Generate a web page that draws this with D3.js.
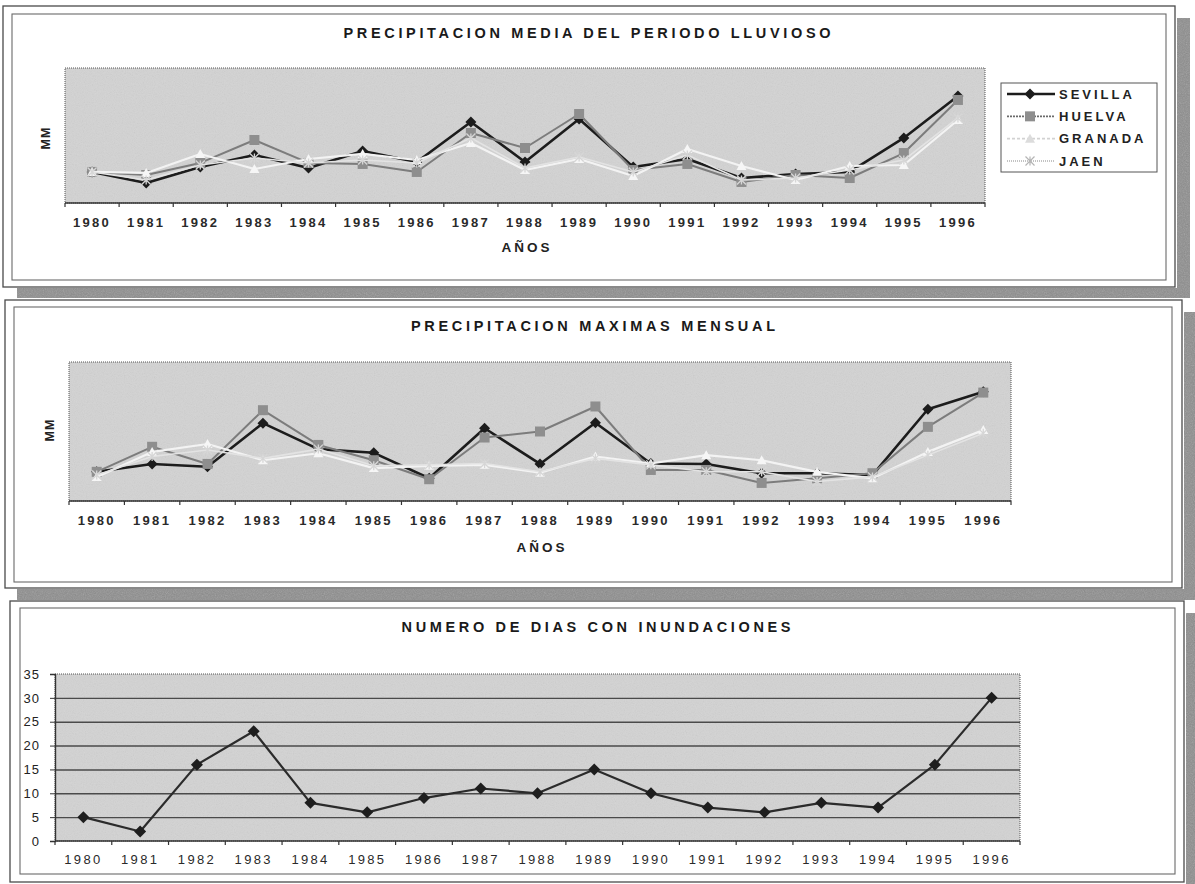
<!DOCTYPE html>
<html><head><meta charset="utf-8">
<script src="https://cdn.jsdelivr.net/npm/d3@7"></script>
<style>
html,body{margin:0;padding:0;background:#fff;}
svg{display:block;font-family:"Liberation Sans",Arial,Helvetica,sans-serif;}
</style></head><body>
<svg id="c" width="1195" height="884"></svg>
<script>
// ---------------- DATA ----------------
const years = ["1980","1981","1982","1983","1984","1985","1986","1987","1988","1989","1990","1991","1992","1993","1994","1995","1996"];
const seriesNames = ["SEVILLA","HUELVA","GRANADA","JAEN"];

// Precipitación media del periodo lluvioso (mm, estimated – no axis values in source)
const sevillaMedia = [276,178,320,427,311,462,364,720,364,747,320,391,222,258,276,578,951];
const huelvaMedia  = [276,249,356,560,356,347,276,622,489,791,293,347,187,249,222,444,916];
const granadaMedia = [276,267,436,302,391,436,382,533,293,391,240,480,329,204,329,338,738];
const jaenMedia    = [276,204,338,400,356,382,356,578,311,409,276,427,204,222,293,382,756];

// Precipitación máximas mensual (mm, estimated)
const sevillaMax = [63,80,74,168,112,104,49,157,80,169,81,80,60,60,56,198,236];
const huelvaMax  = [63,117,80,196,121,88,47,137,150,204,67,67,39,49,60,160,234];
const granadaMax = [52,106,123,88,103,71,76,78,61,96,81,99,88,63,49,106,153];
const jaenMax    = [56,96,110,92,112,76,78,81,63,92,78,63,63,42,52,99,146];

// Número de días con inundaciones
const diasInundaciones = [5,2,16,23,8,6,9,11,10,15,10,7,6,8,7,16,30];
const diasTicks = [0,5,10,15,20,25,30,35];

const titles = ["PRECIPITACION MEDIA DEL PERIODO LLUVIOSO","PRECIPITACION MAXIMAS MENSUAL","NUMERO DE DIAS CON INUNDACIONES"];
const yLabel = "MM";
const xLabel = "AÑOS";

// ---------------- STYLES ----------------
const seriesStyle = [
  {stroke:"#1c1c1c", width:2.6, marker:"diamond", fill:"#1c1c1c", size:11, lStroke:"#1c1c1c", lDash:null},
  {stroke:"#7c7c7c", width:2.0, marker:"square",  fill:"#8e8e8e", size:10, lStroke:"#6a6a6a", lDash:"2,1"},
  {stroke:"#f3f3f3", width:2.2, marker:"triangle",fill:"#f6f6f6", size:10, lStroke:"#d2d2d2", lDash:"3,2"},
  {stroke:"#e3e3e3", width:1.6, marker:"asterisk",fill:"#d6d6d6", size:9,  lStroke:"#b0b0b0", lDash:"1,1"}
];

const svg = d3.select("#c");
const defs = svg.append("defs");
const f = defs.append("filter").attr("id","grain").attr("x",0).attr("y",0).attr("width","100%").attr("height","100%");
f.append("feTurbulence").attr("type","fractalNoise").attr("baseFrequency",0.9).attr("numOctaves",2).attr("seed",4).attr("result","n");
f.append("feColorMatrix").attr("in","n").attr("type","saturate").attr("values",0);

function markerPath(type, size){
  const r = size/2;
  if(type==="diamond") return `M0,${-r}L${r},0L0,${r}L${-r},0Z`;
  if(type==="square") return `M${-r},${-r}H${r}V${r}H${-r}Z`;
  if(type==="triangle") return `M0,${-r}L${r},${r*0.8}L${-r},${r*0.8}Z`;
  if(type==="asterisk") return `M${-r},${-r}L${r},${r}M${-r},${r}L${r},${-r}M0,${-r}L0,${r}`;
  return "";
}

function frame(o, inner, shadows){
  shadows.forEach(s=>{
    svg.append("rect").attr("x",s[0]).attr("y",s[1]).attr("width",s[2]).attr("height",s[3]).attr("fill","#8d8d8d");
    svg.append("rect").attr("x",s[0]).attr("y",s[1]).attr("width",s[2]).attr("height",s[3]).attr("fill","#888").attr("opacity",0.35).attr("filter","url(#grain)");
  });
  svg.append("rect").attr("x",o[0]).attr("y",o[1]).attr("width",o[2]).attr("height",o[3]).attr("fill","#fff").attr("stroke","#4a4a4a").attr("stroke-width",1.3);
  svg.append("rect").attr("x",inner[0]).attr("y",inner[1]).attr("width",inner[2]).attr("height",inner[3]).attr("fill","none").attr("stroke","#6a6a6a").attr("stroke-width",1.1);
}

function plotBg(g, L, T, R, B){
  g.append("rect").attr("x",L).attr("y",T).attr("width",R-L).attr("height",B-T).attr("fill","#d3d3d3");
  g.append("rect").attr("x",L).attr("y",T).attr("width",R-L).attr("height",B-T).attr("fill","#999").attr("opacity",0.16).attr("filter","url(#grain)");
  g.append("rect").attr("x",L).attr("y",T).attr("width",R-L).attr("height",B-T).attr("fill","none")
   .attr("stroke","#555").attr("stroke-width",1).attr("stroke-dasharray","1,1");
}

function xAxis(g, x, B, pad, weight){
  const ax = g.append("g").attr("transform",`translate(0,${B})`)
    .call(d3.axisBottom(x).tickSize(0).tickPadding(pad));
  ax.select(".domain").remove();
  ax.selectAll("text").attr("font-size",13).attr("font-weight",weight).attr("fill","#2a2a2a")
    .attr("letter-spacing","2.3px").attr("font-family",'"Liberation Sans",Arial,sans-serif');
  const [r0,r1] = x.range();
  g.append("line").attr("x1",r0).attr("x2",r1).attr("y1",B).attr("y2",B).attr("stroke","#333").attr("stroke-width",1.6);
  const bounds = years.map(d=>x(d)).concat([r1]);
  g.selectAll(null).data(bounds).enter().append("line")
    .attr("x1",d=>d).attr("x2",d=>d).attr("y1",B).attr("y2",B+4).attr("stroke","#333").attr("stroke-width",1.2);
}

function title(txt, cx, y, w){
  svg.append("text").attr("x",cx).attr("y",y).attr("text-anchor","middle")
    .attr("font-size",14.5).attr("font-weight","bold").attr("fill","#1a1a1a")
    .attr("textLength",w).attr("lengthAdjust","spacing").text(txt);
}

function multiPanel(cfg, data){
  const g = svg.append("g");
  const x = d3.scaleBand().domain(years).range([cfg.L, cfg.R]);
  const y = d3.scaleLinear().domain(cfg.domain).range([cfg.B, cfg.T]);
  plotBg(g, cfg.L, cfg.T, cfg.R, cfg.B);
  xAxis(g, x, cfg.B, 15, "bold");
  const cx = d => x(d) + x.bandwidth()/2;
  data.forEach((vals,i)=>{
    const st = seriesStyle[i];
    const line = d3.line().x((v,j)=>cx(years[j])).y(v=>y(v));
    g.append("path").datum(vals).attr("d",line).attr("fill","none")
      .attr("stroke",st.stroke).attr("stroke-width",st.width).attr("stroke-linejoin","round");
    g.selectAll(null).data(vals).enter().append("path")
      .attr("transform",(v,j)=>`translate(${cx(years[j])},${y(v)})`)
      .attr("d",markerPath(st.marker, st.size))
      .attr("fill", st.marker==="asterisk" ? "none" : st.fill)
      .attr("stroke", st.marker==="asterisk" ? st.fill : "none")
      .attr("stroke-width",1.3);
  });
  svg.append("text").attr("transform",`translate(${cfg.mmX},${cfg.mmY}) rotate(-90)`).attr("text-anchor","middle")
    .attr("font-size",12.5).attr("font-weight","bold").attr("fill","#222").attr("letter-spacing","1px").text(yLabel);
  svg.append("text").attr("x",cfg.anX).attr("y",cfg.anY).attr("text-anchor","middle")
    .attr("font-size",13.5).attr("font-weight","bold").attr("fill","#222").attr("letter-spacing","3px").text(xLabel);
  return g;
}

// ---------------- PANEL FRAMES ----------------
frame([3,6,1172,281],[12,14,1154,266],[[1177,18,13,280],[17,288,1173,10]]);
frame([5,300,1177,288],[14,307,1158,275],[[1184,312,11,288],[17,589,1178,11]]);
frame([10,601,1174,281],[20,608,1155,266],[[1186,613,9,271]]);

// ---------------- PANEL 1 ----------------
title(titles[0], 587, 38, 487);
multiPanel({L:65,R:985,T:68,B:203,domain:[0,1200],mmX:50,mmY:138,anX:527,anY:252},
  [sevillaMedia,huelvaMedia,granadaMedia,jaenMedia]);

// legend
const lg = svg.append("g");
lg.append("rect").attr("x",1001).attr("y",83).attr("width",156).attr("height",89).attr("fill","#fff").attr("stroke","#555").attr("stroke-width",1);
const legY = d3.scalePoint().domain(seriesNames).range([94,161]);
seriesNames.forEach((n,i)=>{
  const st = seriesStyle[i], yy = legY(n);
  lg.append("line").attr("x1",1007).attr("x2",1055).attr("y1",yy).attr("y2",yy)
    .attr("stroke",st.lStroke).attr("stroke-width",i===0?2.4:1.6).attr("stroke-dasharray",st.lDash);
  lg.append("path").attr("transform",`translate(1030,${yy})`).attr("d",markerPath(st.marker, st.size))
    .attr("fill", st.marker==="asterisk" ? "none" : (i>=2 ? "#dcdcdc" : st.fill))
    .attr("stroke", st.marker==="asterisk" ? "#b5b5b5" : "none").attr("stroke-width",1.2);
  lg.append("text").attr("x",1059).attr("y",yy+4.5).attr("font-size",13).attr("font-weight","bold")
    .attr("fill","#222").attr("letter-spacing","3px").text(n);
});

// ---------------- PANEL 2 ----------------
title(titles[1], 593, 331, 364);
multiPanel({L:69,R:1011,T:362,B:501,domain:[0,300],mmX:54,mmY:430,anX:542,anY:552},
  [sevillaMax,huelvaMax,granadaMax,jaenMax]);

// ---------------- PANEL 3 ----------------
title(titles[2], 596, 632, 389);
(function(){
  const L=55,R=1020,T=674,B=841;
  const g = svg.append("g");
  const x = d3.scaleBand().domain(years).range([L,R]);
  const y = d3.scaleLinear().domain([0,35]).range([B,T]);
  plotBg(g, L, T, R, B);
  // gridlines
  const grid = g.append("g").attr("transform",`translate(${L},0)`)
    .call(d3.axisLeft(y).tickValues(diasTicks.slice(1,-1)).tickSize(-(R-L)).tickFormat(""));
  grid.select(".domain").remove();
  grid.selectAll("line").attr("stroke","#4a4a4a").attr("stroke-width",1.4);
  // y axis labels and ticks
  const ya = g.append("g").attr("transform",`translate(${L},0)`)
    .call(d3.axisLeft(y).tickValues(diasTicks).tickSize(5).tickPadding(10));
  ya.select(".domain").attr("stroke","#333").attr("stroke-width",1.4);
  ya.selectAll("line").attr("stroke","#333");
  ya.selectAll("text").attr("font-size",13).attr("fill","#222").attr("letter-spacing","1px")
    .attr("font-family",'"Liberation Sans",Arial,sans-serif');
  xAxis(g, x, B, 14, "normal");
  const cx = d => x(d) + x.bandwidth()/2;
  const line = d3.line().x((v,j)=>cx(years[j])).y(v=>y(v));
  g.append("path").datum(diasInundaciones).attr("d",line).attr("fill","none")
    .attr("stroke","#2b2b2b").attr("stroke-width",2.2).attr("stroke-linejoin","round");
  g.selectAll(null).data(diasInundaciones).enter().append("path")
    .attr("transform",(v,j)=>`translate(${cx(years[j])},${y(v)})`)
    .attr("d",markerPath("diamond",12)).attr("fill","#1e1e1e");
})();
</script>
</body></html>
